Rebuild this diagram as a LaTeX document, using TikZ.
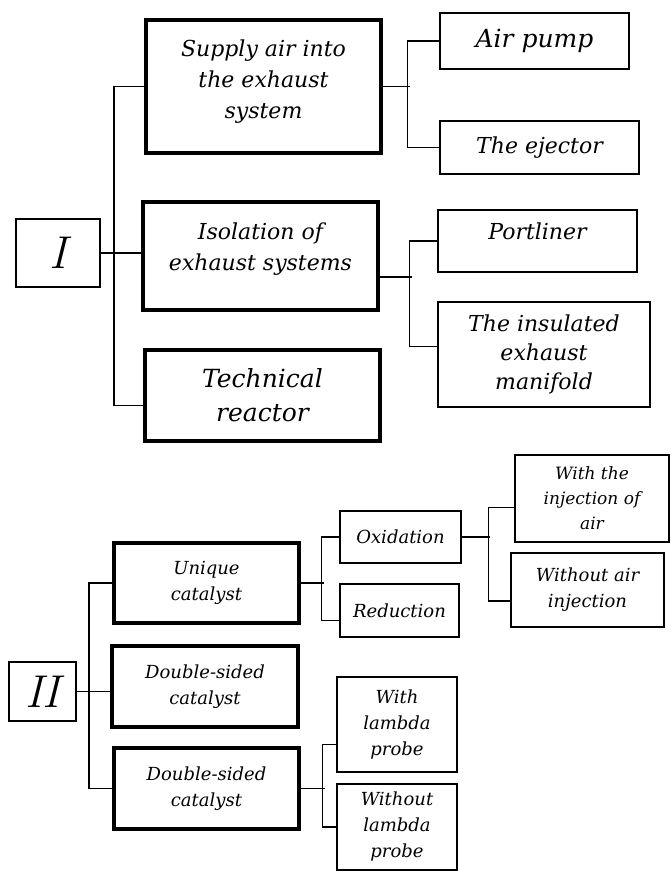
\documentclass[tikz,border=0pt]{standalone}
\usepackage{fontspec}
\newfontfamily\boxfont{DejaVu Serif}
\begin{document}
\begin{tikzpicture}[x=1pt,y=-1pt]
\tikzstyle{main}= [rectangle,draw,line width=4pt,inner sep=0pt,align=center,font=\boxfont\itshape\fontsize{22}{31}\selectfont]
\tikzstyle{sub}= [rectangle,draw,line width=1.4pt,inner sep=0pt,align=center,font=\boxfont\itshape\fontsize{22}{29}\selectfont]
\tikzstyle{small}= [font=\boxfont\itshape\fontsize{18}{26}\selectfont]
\tikzstyle{large}= [font=\boxfont\itshape\fontsize{25}{34}\selectfont]
\tikzstyle{roman}= [rectangle,draw,line width=1.4pt,inner sep=0pt,font=\itshape\fontsize{46}{46}\selectfont]
\tikzstyle{link}= [line width=1.3pt]

\useasboundingbox (0,0) rectangle (672,871);

% first group
\path
	( 58.0,253.0) node[roman,minimum width=84,minimum height=68] (one) {I}
	(263.5, 86.5) node[main,minimum width=235,minimum height=133,text depth=14pt] (supply) {Supply air into\\the exhaust\\system}
	(260.5,256.0) node[main,minimum width=235,minimum height=108,text depth=18pt] (iso) {Isolation of\\exhaust systems}
	(262.5,395.5) node[main,large,minimum width=235,minimum height=91] (tech) {Technical\\reactor}
	(534.5, 41.0) node[sub,large,minimum width=189,minimum height=56] (pump) {Air pump}
	(539.5,147.5) node[sub,minimum width=199,minimum height=53] (eject) {The ejector}
	(537.5,241.0) node[sub,minimum width=199,minimum height=62,text depth=20pt] (portl) {Portliner}
	(544.0,354.5) node[sub,minimum width=212,minimum height=105] (manif) {The insulated\\exhaust\\manifold}
;

% second group
\path
	( 42.5,691.5) node[roman,minimum width=67,minimum height=59] (two) {II}
	(206.5,583.0) node[main,small,minimum width=185,minimum height=80] (uniq) {Unique\\catalyst}
	(205.0,686.5) node[main,small,minimum width=186,minimum height=81] (dblA) {Double-sided\\catalyst}
	(206.5,788.5) node[main,small,minimum width=185,minimum height=81] (dblB) {Double-sided\\catalyst}
	(400.5,537.0) node[sub,small,minimum width=121,minimum height=52] (oxid) {Oxidation}
	(399.5,610.5) node[sub,small,minimum width=119,minimum height=53] (reduct) {Reduction}
	(592.0,498.5) node[sub,small,minimum width=154,minimum height=87,font=\boxfont\itshape\fontsize{17}{25}\selectfont] (winj) {With the\\injection of\\air}
	(587.5,590.0) node[sub,small,minimum width=153,minimum height=74] (woinj) {Without air\\injection}
	(397.0,724.5) node[sub,small,minimum width=120,minimum height=95] (wlam) {With\\lambda\\probe}
	(397.0,827.0) node[sub,small,minimum width=120,minimum height=86] (wolam) {Without\\lambda\\probe}
;

\draw[link] (supply.west) -- ++(-30,0) |- ([yshift=-10pt]tech.west);
\draw[link] (one.east) -- (one.east -| iso.west);
\draw[link] (supply.east) -- ++(27,0);
\draw[link] (pump.west) -- ++(-32,0) |- (eject.west);
\draw[link] ([yshift=-21pt]iso.east) -- ++(32,0);
\draw[link] (portl.west) -- ++(-28,0) |- ([yshift=8pt]manif.west);

\draw[link] (uniq.west) -- ++(-23,0) |- (dblB.west);
\draw[link] (two.east) -- (two.east -| dblA.west);
\draw[link] (uniq.east) -- ++(23,0);
\draw[link] (oxid.west) -- ++(-18,0) |- ([yshift=-10pt]reduct.west);
\draw[link] (oxid.east) -- ++(28,0);
\draw[link] ([yshift=-9pt]winj.west) -- ++(-26,0) |- ([yshift=-11pt]woinj.west);
\draw[link] (dblB.east) -- ++(24,0);
\draw[link] ([yshift=-20pt]wlam.west) -- ++(-14,0) |- (wolam.west);
\end{tikzpicture}
\end{document}
